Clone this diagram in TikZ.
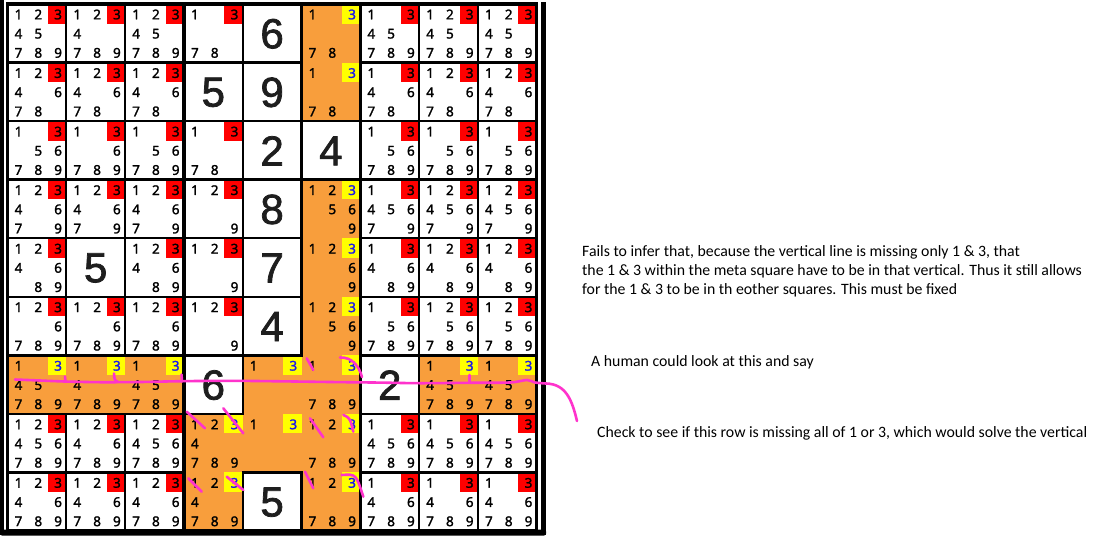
\documentclass[tikz,border=0pt]{standalone}
\usepackage{fontspec}
\setmainfont{Carlito}
\newfontfamily\pmfont{Noto Sans}[FakeBold=1.6]
\newfontfamily\bigfont{Liberation Sans}[FakeBold=1.8]
\definecolor{orng}{RGB}{248,158,60}
\definecolor{hlred}{RGB}{255,0,0}
\definecolor{hlyel}{RGB}{255,255,0}
\definecolor{pblue}{RGB}{25,25,235}
\definecolor{pinkpen}{RGB}{255,51,204}
\definecolor{bigc}{RGB}{30,30,30}
\newcommand\pcell[4]{%
  \pgfmathsetmacro\cxo{7.5+58.8*#1}%
  \pgfmathsetmacro\cyo{4+58.55*#2}%
  \if r#4
    \fill[hlred] (\cxo+40.5,\cyo) rectangle (\cxo+58.8,\cyo+19.5);
    \node[pm] (p#1-#2-3) at (\cxo+50.6,\cyo+10.5) {3};
  \else
    \fill[hlyel] (\cxo+40.5,\cyo) rectangle (\cxo+58.8,\cyo+19.5);
    \node[pm,text=pblue] (p#1-#2-3) at (\cxo+50.6,\cyo+10.5) {3};
  \fi
  \foreach \dd in {#3}{%
    \pgfmathtruncatemacro\sc{mod(\dd-1,3)}%
    \pgfmathtruncatemacro\sr{floor((\dd-1)/3)}%
    \node[pm] (p#1-#2-\dd) at (\cxo+11+19.8*\sc,\cyo+10.5+19.2*\sr) {\dd};
  }%
}
\newcommand\given[3]{%
  \node[bigd] (g#1-#2) at (7.5+58.8*#1+29.4,4+58.55*#2+29.8) {#3};%
}
\begin{document}
\begin{tikzpicture}[x=1pt,y=-1pt,
  pm/.style={inner sep=0pt,font=\pmfont\fontsize{13.5}{13.5}\selectfont,text=black},
  bigd/.style={inner sep=0pt,font=\bigfont\fontsize{42}{42}\selectfont,text=bigc},
  note/.style={inner sep=0pt,anchor=base west,font=\fontsize{15.8}{18}\selectfont},
  pinkstroke/.style={draw=pinkpen,line width=2.6pt,line cap=round,line join=round},
  gridline/.style={draw=black,line cap=rect}]
\useasboundingbox (0,0) rectangle (1098,546);
\fill[white] (0,0) rectangle (1098,546);
% orange cells
\foreach \cc/\rr in {5/0,5/1,0/6,1/6,2/6,7/6,8/6,5/3,5/4,5/5,5/6,5/7,5/8,4/6,3/7,4/7,3/8}{%
  \expandafter\gdef\csname or\cc-\rr\endcsname{}%
  \fill[orng] (7.5+58.8*\cc,4+58.55*\rr) rectangle (7.5+58.8*\cc+58.8,4+58.55*\rr+58.55);
}
% pencil marks
% row 1
\pcell{0}{0}{1,2,4,5,7,8,9}{r}
\pcell{1}{0}{1,2,4,7,8,9}{r}
\pcell{2}{0}{1,2,4,5,7,8,9}{r}
\pcell{3}{0}{1,7,8}{r}
\pcell{5}{0}{1,7,8}{y}
\pcell{6}{0}{1,4,5,7,8,9}{r}
\pcell{7}{0}{1,2,4,5,7,8,9}{r}
\pcell{8}{0}{1,2,4,5,7,8,9}{r}
% row 2
\pcell{0}{1}{1,2,4,6,7,8}{r}
\pcell{1}{1}{1,2,4,6,7,8}{r}
\pcell{2}{1}{1,2,4,6,7,8}{r}
\pcell{5}{1}{1,7,8}{y}
\pcell{6}{1}{1,4,6,7,8}{r}
\pcell{7}{1}{1,2,4,6,7,8}{r}
\pcell{8}{1}{1,2,4,6,7,8}{r}
% row 3
\pcell{0}{2}{1,5,6,7,8,9}{r}
\pcell{1}{2}{1,6,7,8,9}{r}
\pcell{2}{2}{1,5,6,7,8,9}{r}
\pcell{3}{2}{1,7,8}{r}
\pcell{6}{2}{1,5,6,7,8,9}{r}
\pcell{7}{2}{1,5,6,7,8,9}{r}
\pcell{8}{2}{1,5,6,7,8,9}{r}
% row 4
\pcell{0}{3}{1,2,4,6,7,9}{r}
\pcell{1}{3}{1,2,4,6,7,9}{r}
\pcell{2}{3}{1,2,4,6,7,9}{r}
\pcell{3}{3}{1,2,9}{r}
\pcell{5}{3}{1,2,5,6,9}{y}
\pcell{6}{3}{1,4,5,6,7,9}{r}
\pcell{7}{3}{1,2,4,5,6,7,9}{r}
\pcell{8}{3}{1,2,4,5,6,7,9}{r}
% row 5
\pcell{0}{4}{1,2,4,6,8,9}{r}
\pcell{2}{4}{1,2,4,6,8,9}{r}
\pcell{3}{4}{1,2,9}{r}
\pcell{5}{4}{1,2,6,9}{y}
\pcell{6}{4}{1,4,6,8,9}{r}
\pcell{7}{4}{1,2,4,6,8,9}{r}
\pcell{8}{4}{1,2,4,6,8,9}{r}
% row 6
\pcell{0}{5}{1,2,6,7,8,9}{r}
\pcell{1}{5}{1,2,6,7,8,9}{r}
\pcell{2}{5}{1,2,6,7,8,9}{r}
\pcell{3}{5}{1,2,9}{r}
\pcell{5}{5}{1,2,5,6,9}{y}
\pcell{6}{5}{1,5,6,7,8,9}{r}
\pcell{7}{5}{1,2,5,6,7,8,9}{r}
\pcell{8}{5}{1,2,5,6,7,8,9}{r}
% row 7
\pcell{0}{6}{1,4,5,7,8,9}{y}
\pcell{1}{6}{1,4,7,8,9}{y}
\pcell{2}{6}{1,4,5,7,8,9}{y}
\pcell{4}{6}{1}{y}
\pcell{5}{6}{1,7,8,9}{y}
\pcell{7}{6}{1,4,5,7,8,9}{y}
\pcell{8}{6}{1,4,5,7,8,9}{y}
% row 8
\pcell{0}{7}{1,2,4,5,6,7,8,9}{r}
\pcell{1}{7}{1,2,4,6,7,8,9}{r}
\pcell{2}{7}{1,2,4,5,6,7,8,9}{r}
\pcell{3}{7}{1,2,4,7,8,9}{y}
\pcell{4}{7}{1}{y}
\pcell{5}{7}{1,2,7,8,9}{y}
\pcell{6}{7}{1,4,5,6,7,8,9}{r}
\pcell{7}{7}{1,4,5,6,7,8,9}{r}
\pcell{8}{7}{1,4,5,6,7,8,9}{r}
% row 9
\pcell{0}{8}{1,2,4,6,7,8,9}{r}
\pcell{1}{8}{1,2,4,6,7,8,9}{r}
\pcell{2}{8}{1,2,4,6,7,8,9}{r}
\pcell{3}{8}{1,2,4,7,8,9}{y}
\pcell{5}{8}{1,2,7,8,9}{y}
\pcell{6}{8}{1,4,6,7,8,9}{r}
\pcell{7}{8}{1,4,6,7,8,9}{r}
\pcell{8}{8}{1,4,6,7,8,9}{r}
% given digits
\given{4}{0}{6}
\given{3}{1}{5}
\given{4}{1}{9}
\given{4}{2}{2}
\given{5}{2}{4}
\given{4}{3}{8}
\given{1}{4}{5}
\given{4}{4}{7}
\given{4}{5}{4}
\given{3}{6}{6}
\given{6}{6}{2}
\given{4}{8}{5}
% grid lines (skip edges inside orange regions)
\foreach \i in {1,...,8}{%
  \foreach \j in {0,...,8}{%
    \pgfmathtruncatemacro\ia{\i-1}%
    \def\skipit{0}%
    \ifcsname or\ia-\j\endcsname\ifcsname or\i-\j\endcsname\def\skipit{1}\fi\fi
    \ifnum\skipit=0
      \pgfmathsetmacro\lw{mod(\i,3)==0 ? 3.2 : 2.2}%
      \draw[gridline,line width=\lw pt] (7.5+58.8*\i,4+58.55*\j) -- (7.5+58.8*\i,4+58.55*\j+58.55);
    \fi
  }%
}
\foreach \j in {1,...,8}{%
  \foreach \i in {0,...,8}{%
    \pgfmathtruncatemacro\ja{\j-1}%
    \def\skipit{0}%
    \ifcsname or\i-\ja\endcsname\ifcsname or\i-\j\endcsname\def\skipit{1}\fi\fi
    \ifnum\skipit=0
      \pgfmathsetmacro\lw{mod(\j,3)==0 ? 3.2 : 2.2}%
      \draw[gridline,line width=\lw pt] (7.5+58.8*\i,4+58.55*\j) -- (7.5+58.8*\i+58.8,4+58.55*\j);
    \fi
  }%
}
\draw[line width=3.4pt] (7.5,4) rectangle (536.7,531);
% outer frame
\fill[black] (0,0) rectangle (3.5,535);
\fill[black] (541,2) rectangle (546,535);
\fill[black, rounded corners=2pt] (0,529.5) rectangle (546,535.5);
% pink annotations
\draw[pinkstroke] plot[smooth,tension=0.5] coordinates {(15,379.5) (40,380.5) (65,381.5) (100,382.2) (140,382) (181,381.2) (230,380.8) (280,381.3) (330,382) (380,382.6) (420,383.2) (470,382.8) (510,382.5) (527,380) (535,382.5) (546,383.5)};
\draw[pinkstroke] (546,383.5) .. controls (566,384) and (572,400) .. (577,421);
\draw[pinkstroke] (65,376.5) -- (65.5,381.5);
\draw[pinkstroke] (114,373.5) .. controls (114.5,380) .. (118,382);
\draw[pinkstroke] (181.5,374.5) -- (182,381.5);
\draw[pinkstroke] (469.5,375) -- (469.5,382.5);
\draw[pinkstroke] (306.7,358.3) -- (313.3,370);
\draw[pinkstroke] (340,357.5) .. controls (352,357) and (359,366) .. (362,377);
\draw[pinkstroke] (186.7,411.7) -- (205,428.3);
\draw[pinkstroke] (223.3,408.3) -- (243.3,433.3);
\draw[pinkstroke] (310,418.3) -- (323.3,437.3);
\draw[pinkstroke] (343.3,415) .. controls (350,418) .. (353.3,431.7);
\draw[pinkstroke] (188.3,478.3) -- (201.7,491.7);
\draw[pinkstroke] (226.7,476.7) -- (243.3,490);
\draw[pinkstroke] (305,471.7) -- (313.3,488.3);
\draw[pinkstroke] (341.7,475) .. controls (356,474) .. (363.3,496.7);
% notes
\node[note] (n1) at (582,256) {Fails to infer that, because the vertical line is missing only 1 \& 3, that};
\node[note] (n2) at (582,275) {the 1 \& 3 within the meta square have to be in that vertical. Thus it still allows};
\node[note] (n3) at (582,294) {for the 1 \& 3 to be in th eother squares. This must be fixed};
\node[note] (n4) at (591,366) {A human could look at this and say};
\node[note] (n5) at (597,437) {Check to see if this row is missing all of 1 or 3, which would solve the vertical};
\end{tikzpicture}
\end{document}
